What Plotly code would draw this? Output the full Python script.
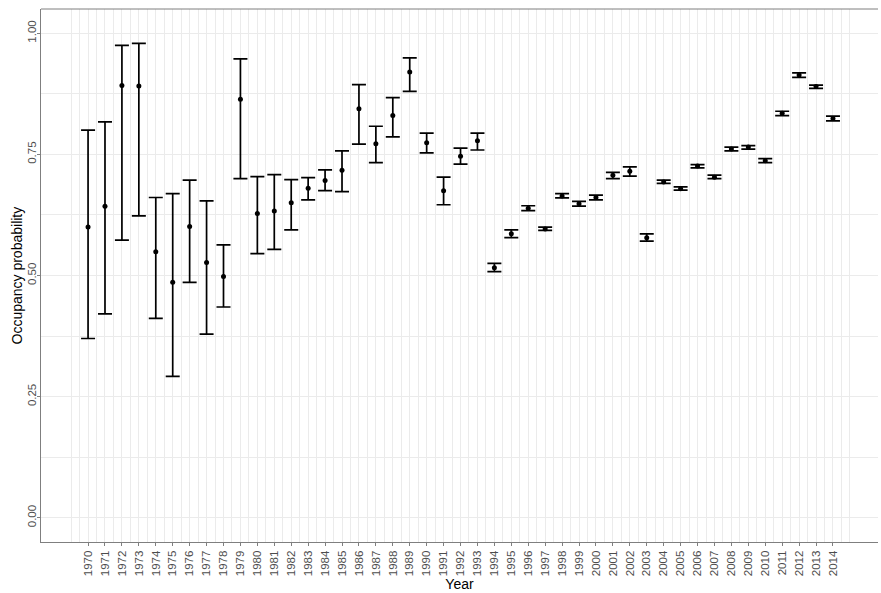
import plotly.graph_objects as go

years = list(range(1970, 2015))
mean = [0.600, 0.643, 0.892, 0.891, 0.549, 0.486, 0.601, 0.527, 0.498, 0.864,
        0.628, 0.633, 0.650, 0.680, 0.696, 0.717, 0.844, 0.772, 0.830, 0.920,
        0.774, 0.675, 0.746, 0.778, 0.516, 0.586, 0.639, 0.596, 0.664, 0.648,
        0.661, 0.707, 0.715, 0.578, 0.693, 0.679, 0.726, 0.703, 0.761, 0.765,
        0.737, 0.835, 0.914, 0.890, 0.824]
upper = [0.800, 0.817, 0.975, 0.979, 0.661, 0.669, 0.697, 0.654, 0.563, 0.947,
         0.704, 0.708, 0.698, 0.702, 0.718, 0.757, 0.894, 0.808, 0.867, 0.949,
         0.794, 0.703, 0.763, 0.794, 0.525, 0.594, 0.644, 0.600, 0.669, 0.653,
         0.666, 0.713, 0.724, 0.586, 0.697, 0.683, 0.729, 0.707, 0.765, 0.768,
         0.741, 0.839, 0.918, 0.893, 0.829]
lower = [0.370, 0.421, 0.573, 0.623, 0.4115, 0.292, 0.486, 0.379, 0.435, 0.700,
         0.545, 0.554, 0.594, 0.656, 0.675, 0.673, 0.771, 0.733, 0.786, 0.880,
         0.753, 0.646, 0.730, 0.759, 0.508, 0.578, 0.634, 0.593, 0.660, 0.643,
         0.656, 0.700, 0.705, 0.571, 0.690, 0.676, 0.722, 0.700, 0.757, 0.761,
         0.733, 0.830, 0.909, 0.886, 0.819]

err_plus = [u - m for u, m in zip(upper, mean)]
err_minus = [m - l for m, l in zip(mean, lower)]

fig = go.Figure()
fig.add_trace(go.Scatter(
    x=years, y=mean, mode="markers",
    marker=dict(color="black", size=5),
    error_y=dict(type="data", symmetric=False, array=err_plus, arrayminus=err_minus,
                 color="black", thickness=1.7, width=7),
    showlegend=False,
))

grid_major = list(range(1969, 2016))
grid_minor = [y + 0.5 for y in range(1969, 2015)] + [1969, 2015]

L, R = 41, 3
plot_w = 881 - L - R

fig.update_layout(
    width=881, height=593,
    margin=dict(l=L, r=R, t=9, b=51),
    paper_bgcolor="white", plot_bgcolor="white",
    font=dict(family="Liberation Sans, Arial, sans-serif", color="#4D4D4D", size=11.5),
    xaxis=dict(
        range=[1967.22, 2016.66],
        tickmode="array", tickvals=years, ticktext=[str(y) for y in years],
        tickangle=-90, ticks="outside", ticklen=3, tickcolor="#7f7f7f", tickwidth=1,
        showgrid=False,
        minor=dict(tickmode="array", tickvals=grid_major + grid_minor, showgrid=True,
                   gridcolor="#EBEBEB", gridwidth=1, ticks=""),
        showline=True, linecolor="#7f7f7f", linewidth=1, mirror=False,
        zeroline=False,
        title=dict(text="Year", font=dict(size=14, color="black"), standoff=4),
    ),
    yaxis=dict(
        range=[-0.05, 1.05],
        tickmode="array", tickvals=[0, 0.25, 0.5, 0.75, 1.0],
        ticktext=["0.00", "0.25", "0.50", "0.75", "1.00"],
        tickangle=-90, ticks="outside", ticklen=3, tickcolor="#7f7f7f", tickwidth=1,
        ticklabelstandoff=-4,
        showgrid=True, gridcolor="#EBEBEB", gridwidth=1,
        minor=dict(tickmode="array", tickvals=[0.125, 0.375, 0.625, 0.875], showgrid=True,
                   gridcolor="#EBEBEB", gridwidth=1, ticks=""),
        showline=True, linecolor="#7f7f7f", linewidth=1, mirror=False,
        zeroline=False,
    ),
    shapes=[dict(type="line", xref="paper", yref="paper", x0=0, x1=1, y0=1, y1=1,
                 line=dict(color="#7f7f7f", width=1))],
    annotations=[dict(text="Occupancy probability", xref="paper", yref="paper",
                      x=-(L - 16) / plot_w, y=0.5, xanchor="center", yanchor="middle",
                      textangle=-90, showarrow=False,
                      font=dict(size=14, color="black"))],
)

fig.write_html("out.html")
